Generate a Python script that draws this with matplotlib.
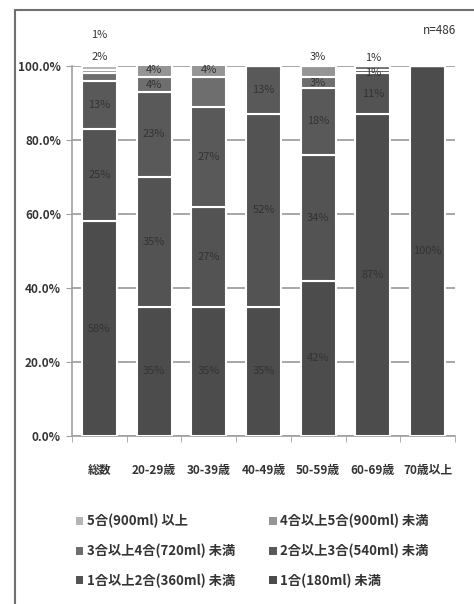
import matplotlib.pyplot as plt
from matplotlib.patches import Patch, Rectangle
import numpy as np

plt.rcParams['font.family'] = ['Noto Sans CJK JP', 'DejaVu Sans']

categories = ['総数', '20-29歳', '30-39歳', '40-49歳', '50-59歳', '60-69歳', '70歳以上']

# stacked bottom -> top
series_names = ['1合(180ml) 未満', '1合以上2合(360ml) 未満', '2合以上3合(540ml) 未満',
                '3合以上4合(720ml) 未満', '4合以上5合(900ml) 未満', '5合(900ml) 以上']
s1 = [58, 35, 35, 35, 42, 87, 100]
s2 = [25, 35, 27, 52, 34, 11, 0]
s3 = [13, 23, 27, 13, 18, 1, 0]
s4 = [2, 4, 8, 0, 3, 1, 0]
s5 = [1, 4, 4, 0, 3, 0, 0]
s6 = [1, 0, 0, 0, 0, 0, 0]
series = [s1, s2, s3, s4, s5, s6]
colors = ['#4c4c4c', '#535353', '#595959', '#6e6e6e', '#959595', '#b5b5b5']
txt = '#333333'

fig = plt.figure(figsize=(4.74, 6.04), dpi=100)
ax = fig.add_axes([72/474, 1 - 436/604, 383/474, 370/604])

x = np.arange(len(categories))
bottom = np.zeros(len(categories))
for k, (vals, c) in enumerate(zip(series, colors)):
    vals = np.array(vals, dtype=float)
    ax.bar(x, vals, width=0.64, bottom=bottom, color=c,
           edgecolor='white', linewidth=1.5, zorder=3)
    for i, v in enumerate(vals):
        if v <= 0:
            continue
        yc = bottom[i] + v / 2
        if i == 0 and v < 5:
            continue  # small 総数 labels sit above the bar
        if i == 2 and v == 8:
            continue  # not labelled in the source
        if i == 5 and v < 5:
            yc = 98.0 + (k - 2) * 4.2
        if i == 4 and k == 4:
            yc = 102.5
        ax.text(x[i], yc, f'{int(v)}%', ha='center', va='center',
                fontsize=8, color=txt, zorder=4, clip_on=False)
    bottom += vals

# small 総数 labels above the bar
ax.text(x[0], 102.5, f'{s4[0]}%', ha='center', va='center', fontsize=8,
        color=txt, clip_on=False)
ax.text(x[0], 108.5, f'{s6[0]}%', ha='center', va='center', fontsize=8,
        color=txt, clip_on=False)

ax.set_xlim(-0.5, len(categories) - 0.5)
ax.set_ylim(0, 100)
yt = np.arange(0, 101, 20)
ax.set_yticks(yt)
ax.set_yticklabels([f'{v:.1f}%' for v in yt], fontsize=8.5, color=txt,
                   fontweight='bold')
ax.yaxis.grid(True, color='#a0a0a0', linewidth=1.3, zorder=0)
ax.set_xticks(x)
ax.set_xticklabels(categories, fontsize=8.5, color=txt, fontweight='bold')
ax.set_xticks(np.arange(-0.5, len(categories), 1), minor=True)
ax.tick_params(axis='x', which='major', length=0, pad=20)
ax.tick_params(axis='x', which='minor', length=4, color='#a0a0a0')
ax.tick_params(axis='y', length=4, color='#a0a0a0', pad=4)
for side in ['top', 'right']:
    ax.spines[side].set_visible(False)
for side in ['left', 'bottom']:
    ax.spines[side].set_color('#a0a0a0')
    ax.spines[side].set_linewidth(1.2)

fig.text(440/474, 1 - 30/604, 'n=486', ha='center', va='center', fontsize=8.5,
         color=txt)

handles = [Patch(facecolor=c, label=n) for c, n in zip(colors, series_names)]
order = [5, 3, 1, 4, 2, 0]
fig.legend([handles[k] for k in order], [series_names[k] for k in order],
           ncol=2, loc='upper left', bbox_to_anchor=(67/474, 1 - 505/604),
           frameon=False, prop={'size': 9.5, 'weight': 'bold'},
           labelcolor=txt, handlelength=0.55, handleheight=0.55,
           handletextpad=0.25, columnspacing=2.6, labelspacing=1.15,
           borderpad=0.2)

# outer frame of the scanned chart
fig.patches.append(Rectangle((15/474, -0.05), 1.2, 1 - 10/604 + 0.05,
                             transform=fig.transFigure, fill=False,
                             edgecolor='#707070', linewidth=1.5))

fig.savefig('out.png', dpi=100)
